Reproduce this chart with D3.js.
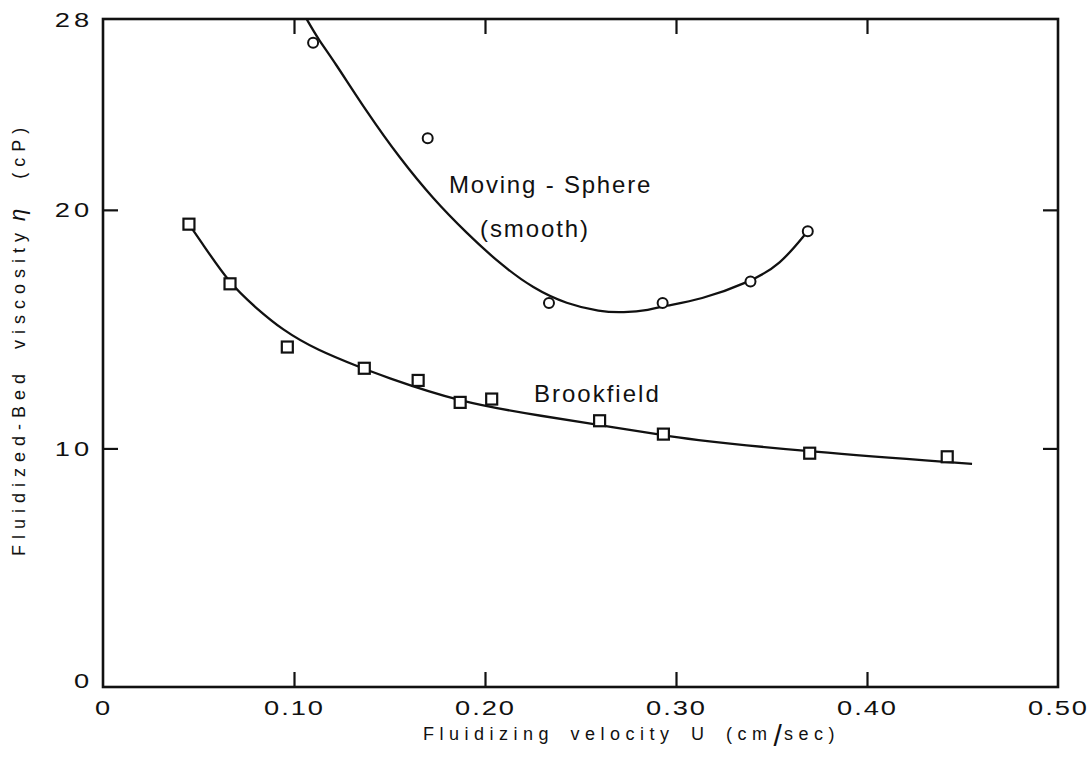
<!DOCTYPE html>
<html>
<head>
<meta charset="utf-8">
<script src="https://cdn.jsdelivr.net/npm/d3@7"></script>
<style>
html,body{margin:0;padding:0;background:#fff;}
svg text{font-family:"Liberation Sans","Helvetica",Arial,sans-serif;fill:#111;}
</style>
</head>
<body>
<svg id="chart" width="1089" height="775"></svg>
<script>
// ---- data ----
const xTickValues = [0, 0.1, 0.2, 0.3, 0.4, 0.5];
const xTickLabels = ["0", "0.10", "0.20", "0.30", "0.40", "0.50"];
const yTickValues = [0, 10, 20, 28];
const yTickLabels = ["0", "10", "20", "28"];

// Moving-Sphere (smooth): measured points
const sphereU   = [0.110, 0.170, 0.2335, 0.293, 0.339, 0.369];
const sphereEta = [27.0, 23.0, 16.1, 16.1, 17.0, 19.1];
// Moving-Sphere fitted curve (traced)
const sphereCurveU   = [0.1066, 0.1127, 0.1206, 0.1381, 0.1555, 0.1729, 0.1904, 0.2079, 0.2253, 0.2428, 0.2602, 0.2724, 0.2864, 0.2932, 0.3126, 0.3387, 0.3545, 0.3686];
const sphereCurveEta = [28.0, 27.15, 26.28, 24.10, 22.15, 20.45, 19.02, 17.73, 16.70, 16.05, 15.73, 15.69, 15.80, 15.97, 16.22, 16.98, 17.69, 19.07];

// Brookfield: measured points
const brookU   = [0.045, 0.0665, 0.0965, 0.1368, 0.165, 0.187, 0.2035, 0.260, 0.2934, 0.370, 0.442];
const brookEta = [19.4, 16.9, 14.25, 13.36, 12.85, 11.93, 12.07, 11.16, 10.6, 9.8, 9.65];
// Brookfield fitted curve (traced)
const brookCurveU   = [0.045, 0.0508, 0.0665, 0.080, 0.094, 0.1118, 0.1368, 0.145, 0.187, 0.2322, 0.260, 0.2933, 0.302, 0.370, 0.455];
const brookCurveEta = [19.4, 18.73, 16.88, 15.9, 14.96, 14.13, 13.33, 13.08, 11.92, 11.33, 10.98, 10.56, 10.42, 9.85, 9.35];

// ---- layout ----
const pL = 103, pR = 1058, pT = 19, pB = 687;
const svg = d3.select("#chart");

const x = d3.scaleLinear().domain([0, 0.5]).range([pL, pR]);
const y = d3.scaleLinear().domain([0, 28]).range([pB, pT]);

const tickLen = 15;
const stretch = 1.3;   // the original lettering has wide, round digits

// frame
svg.append("rect")
  .attr("x", pL).attr("y", pT)
  .attr("width", pR - pL).attr("height", pB - pT)
  .attr("fill", "none").attr("stroke", "#111").attr("stroke-width", 2.6);

// inward ticks (bottom, top, left, right)
const innerX = [0.1, 0.2, 0.3, 0.4];
const innerY = [10, 20];
const tickStyle = g => { g.select(".domain").remove(); g.selectAll("line").attr("stroke", "#111").attr("stroke-width", 2.2); g.selectAll("text").remove(); };
svg.append("g").attr("transform", `translate(0,${pB})`)
  .call(d3.axisBottom(x).tickValues(innerX).tickSize(-tickLen)).call(tickStyle);
svg.append("g").attr("transform", `translate(0,${pT})`)
  .call(d3.axisTop(x).tickValues(innerX).tickSize(-tickLen)).call(tickStyle);
svg.append("g").attr("transform", `translate(${pL},0)`)
  .call(d3.axisLeft(y).tickValues(innerY).tickSize(-tickLen)).call(tickStyle);
svg.append("g").attr("transform", `translate(${pR},0)`)
  .call(d3.axisRight(y).tickValues(innerY).tickSize(-tickLen)).call(tickStyle);

// tick labels via axes
const xLab = svg.append("g").attr("transform", `translate(0,${pB})`)
  .call(d3.axisBottom(x).tickValues(xTickValues).tickSize(0).tickPadding(13)
    .tickFormat((d, i) => xTickLabels[i]));
xLab.select(".domain").remove();
xLab.selectAll("text").attr("font-size", "21px").attr("letter-spacing", "1.5px")
  .attr("font-family", null).attr("fill", "#111")
  .attr("transform", `scale(${stretch},1)`);

const yLab = svg.append("g").attr("transform", `translate(${pL},0)`)
  .call(d3.axisLeft(y).tickValues(yTickValues).tickSize(0)
    .tickFormat((d, i) => yTickLabels[i]));
yLab.select(".domain").remove();
yLab.selectAll("text").attr("font-size", "21px").attr("letter-spacing", "3px")
  .attr("font-family", null).attr("fill", "#111")
  .attr("x", -10 / stretch)
  .attr("dy", (d) => d === 0 ? "0.0em" : "0.34em")
  .attr("transform", `scale(${stretch},1)`);

// curves
const line = d3.line().x(d => x(d[0])).y(d => y(d[1])).curve(d3.curveBasis);
const sphereCurve = sphereCurveU.map((u, i) => [u, sphereCurveEta[i]]);
const brookCurve = brookCurveU.map((u, i) => [u, brookCurveEta[i]]);
svg.append("path").datum(sphereCurve).attr("d", line)
  .attr("fill", "none").attr("stroke", "#111").attr("stroke-width", 2.3);
svg.append("path").datum(brookCurve).attr("d", line)
  .attr("fill", "none").attr("stroke", "#111").attr("stroke-width", 2.3);

// markers
svg.append("g").selectAll("circle")
  .data(sphereU.map((u, i) => [u, sphereEta[i]]))
  .join("circle")
  .attr("cx", d => x(d[0])).attr("cy", d => y(d[1])).attr("r", 5)
  .attr("fill", "#fff").attr("stroke", "#111").attr("stroke-width", 2);

const sq = 11;
svg.append("g").selectAll("rect")
  .data(brookU.map((u, i) => [u, brookEta[i]]))
  .join("rect")
  .attr("x", d => x(d[0]) - sq / 2).attr("y", d => y(d[1]) - sq / 2)
  .attr("width", sq).attr("height", sq)
  .attr("fill", "#fff").attr("stroke", "#111").attr("stroke-width", 2.2);

// annotations
svg.append("text").attr("x", 449).attr("y", 193)
  .attr("font-size", "24px").attr("letter-spacing", "1.8px")
  .text("Moving - Sphere");
svg.append("text").attr("x", 480).attr("y", 237)
  .attr("font-size", "24px").attr("letter-spacing", "1.9px")
  .text("(smooth)");
svg.append("text").attr("x", 534).attr("y", 402)
  .attr("font-size", "24px").attr("letter-spacing", "2px")
  .text("Brookfield");

// axis titles
const xt = svg.append("text").attr("x", 423).attr("y", 740)
  .attr("font-size", "18px").attr("letter-spacing", "5.5px").attr("word-spacing", "6px");
xt.append("tspan").text("Fluidizing velocity U (cm");
xt.append("tspan").attr("font-size", "30px").attr("font-weight", "300").attr("dy", 6).attr("dx", 1).attr("letter-spacing", "1px").text("/");
xt.append("tspan").attr("dy", -6).attr("dx", 1).text("sec)");

const yt = svg.append("text")
  .attr("transform", `translate(25,556) rotate(-90)`)
  .attr("text-anchor", "start")
  .attr("font-size", "18px").attr("letter-spacing", "6px").attr("word-spacing", "8px");
yt.append("tspan").text("Fluidized-Bed viscosity");
yt.append("tspan").attr("font-style", "italic").attr("font-size", "22px").attr("dx", 6).text("η");
yt.append("tspan").attr("dx", 24).text("(cP)");
</script>
</body>
</html>
